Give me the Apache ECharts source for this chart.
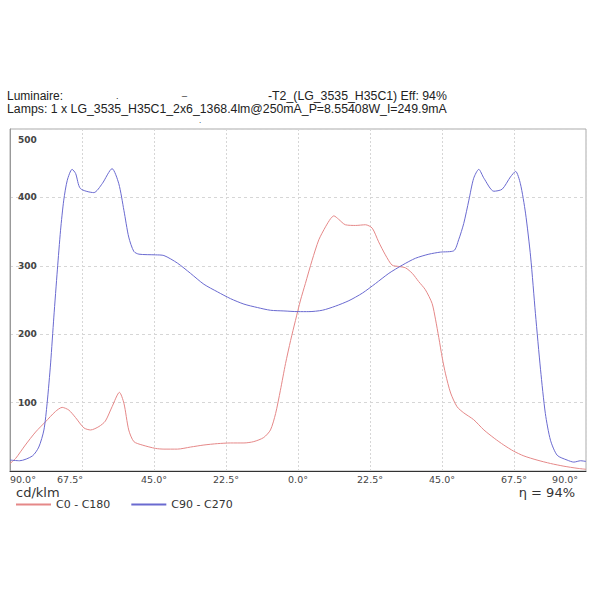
<!DOCTYPE html>
<html>
<head>
<meta charset="utf-8">
<script src="https://cdn.jsdelivr.net/npm/echarts@6/dist/echarts.min.js"></script>
<style>
  html, body { margin: 0; padding: 0; background: #fff; }
  #chart { width: 600px; height: 600px; }
</style>
</head>
<body>
<div id="chart"></div>
<script>
// C0 - C180 plane, angle (deg) / intensity (cd/klm)
const anglesC0 = [-90, -88.3, -85.2, -82, -78.9, -75.8, -73.7, -71.6, -69.5, -66.9, -64.8, -62.2, -60.2, -58.1, -55.8, -54.4, -52.9, -51.3, -48.7, -44.5,
  -41.9, -37.7, -33.6, -29.4, -25.2, -21.1, -16.9, -13.8, -10.7, -8.6, -7, -5.5, -3.9, -2.3, -0.8, 0.8, 2.3, 4.4, 6.5, 8.6,
  10.2, 11.2, 12.7, 14.8, 18, 21.1, 23.2, 25.2, 27.3, 29.4, 31.5, 33.6, 35.7, 37.7, 39.8, 41.9, 43, 44, 45.1, 46.1,
  47.7, 49.7, 51.8, 54.9, 58.1, 61.3, 64.3, 67.4, 70.6, 74.7, 78.9, 83.1, 87.2, 90];
const valuesC0 = [11, 18, 38, 57, 72, 87, 93, 89, 78, 63, 60, 65, 73, 94, 115, 99, 60, 43, 38, 33,
  32, 32, 35, 38, 40, 41, 41, 43, 49, 60, 84, 118, 157, 191, 220, 250, 274, 308, 338, 357,
  369, 373, 368, 360, 359, 360, 355, 335, 316, 301, 299, 297, 289, 277, 265, 245, 221, 195, 165, 142,
  114, 94, 85, 75, 60, 48, 38, 29, 22, 16, 11, 7, 4, 2.5];

// C90 - C270 plane
const anglesC90 = [-90, -87, -83, -81, -79.4, -78.4, -77.3, -76.3, -75.2, -74.2, -73.2, -72.1, -70.6, -69.5, -68, -63.8, -61.2, -58.1, -56, -54.4,
  -52.9, -51.3, -49.7, -44.5, -41.9, -37.7, -33.6, -29.4, -25.2, -21.1, -16.9, -12.7, -8.6, -4.4, 0, 3.4, 7.6, 11.7, 15.9, 20.1,
  24.2, 28.4, 32.6, 36.7, 40.9, 44.5, 48.7, 50.2, 51.8, 53.4, 54.9, 56.5, 58.1, 61.2, 63.8, 66.4, 68, 69.5, 71.1, 72.7,
  74.2, 75.8, 77.3, 78.9, 81, 84.1, 86.2, 88.3, 90];
const valuesC90 = [16, 15, 22, 35, 60, 99, 158, 225, 294, 352, 396, 425, 441, 435, 413, 407, 420, 442, 420, 381,
  342, 321, 317, 316, 315, 304, 289, 273, 262, 252, 244, 239, 235, 234, 233, 233, 235, 241, 249, 260,
  274, 289, 301, 311, 317, 320, 322, 338, 362, 396, 428, 441, 428, 409, 412, 430, 438, 420, 377, 313,
  230, 148, 84, 45, 23, 16, 13, 15, 14];

const seriesNames = ["C0 - C180", "C90 - C270"];
const headerLine1 = "Luminaire:";
const headerLine1b = "-T2_(LG_3535_H35C1) Eff: 94%";
const headerLine2 = "Lamps: 1 x LG_3535_H35C1_2x6_1368.4lm@250mA_P=8.55408W_I=249.9mA";
const unitLabel = "cd/klm";
const effLabel = "η = 94%";

function pairs(xs, ys) {
  return xs.map((x, i) => [x, ys[i]]);
}

function header(text, left, top, size) {
  return {
    text,
    left,
    top,
    padding: 0,
    textStyle: { fontFamily: "Liberation Sans", fontSize: size, lineHeight: 11, fontWeight: "normal", color: "#222" },
  };
}

const tickFont = { fontFamily: "DejaVu Sans", fontSize: 9.5, color: "#444" };

const chart = echarts.init(document.getElementById("chart"), null, { renderer: "svg" });

chart.setOption({
  animation: false,
  backgroundColor: "#fff",
  title: [
    header(headerLine1, 7, 90.5, 12),
    header(headerLine1b, 268, 90.5, 12.3),
    header(headerLine2, 7, 103.5, 12.3),
    header(".", 116, 90, 9),
    header("_", 182, 86, 9),
    header(".", 199, 115, 8),
    {
      text: unitLabel, left: 16, top: 486, padding: 0,
      textStyle: { fontFamily: "DejaVu Sans", fontSize: 13, lineHeight: 13, fontWeight: "normal", color: "#333" },
    },
    {
      text: effLabel, right: 25, top: 486, padding: 0,
      textStyle: { fontFamily: "DejaVu Sans", fontSize: 13, lineHeight: 13, fontWeight: "normal", color: "#333" },
    },
  ],
  legend: {
    data: seriesNames,
    left: 15,
    top: 499,
    padding: 0,
    itemWidth: 35,
    itemHeight: 10,
    itemGap: 20,
    itemStyle: { opacity: 0 },
    textStyle: { fontFamily: "DejaVu Sans", fontSize: 11, color: "#333" },
  },
  grid: {
    left: 10,
    right: 14,
    top: 129,
    bottom: 129,
    show: true,
    borderColor: "#aaa",
    borderWidth: 1,
  },
  xAxis: {
    type: "value",
    min: -90,
    max: 90,
    interval: 22.5,
    axisLine: { lineStyle: { color: "#333" } },
    axisTick: { show: false },
    axisLabel: {
      ...tickFont,
      margin: 3,
      alignMinLabel: "left",
      alignMaxLabel: "right",
      formatter: (v) => {
        const t = Math.abs(v).toFixed(1) + "°";
        if (v === 90) return "{r|" + t + "}";
        if (v === -67.5) return "{l|" + t + "}";
        return t;
      },
      rich: {
        r: { ...tickFont, padding: [0, 8, 0, 0] },
        l: { ...tickFont, padding: [0, 24, 0, 0] },
      },
    },
    splitLine: { lineStyle: { color: "#d6d6d6", type: [2, 2] } },
  },
  yAxis: {
    type: "value",
    min: 0,
    max: 500,
    interval: 100,
    axisLine: { show: true, onZero: false, lineStyle: { color: "#999" } },
    axisTick: { show: false },
    axisLabel: {
      ...tickFont,
      fontSize: 9,
      fontWeight: "bold",
      inside: true,
      margin: 8,
      showMinLabel: false,
      formatter: (v) => (v === 500 ? "{m|500}" : String(v)),
      rich: { m: { ...tickFont, fontSize: 9, fontWeight: "bold", padding: [22, 0, 0, 0] } },
    },
    splitLine: { lineStyle: { color: "#d6d6d6", type: [3, 3] } },
  },
  series: [
    {
      name: seriesNames[0],
      type: "line",
      smooth: 0.25,
      symbol: "none",
      data: pairs(anglesC0, valuesC0),
      lineStyle: { width: 1, color: "#e58888" },
      itemStyle: { color: "#e58888" },
    },
    {
      name: seriesNames[1],
      type: "line",
      smooth: 0.25,
      symbol: "none",
      data: pairs(anglesC90, valuesC90),
      lineStyle: { width: 1, color: "#6a6ad0" },
      itemStyle: { color: "#6a6ad0" },
    },
  ],
});
</script>
</body>
</html>
